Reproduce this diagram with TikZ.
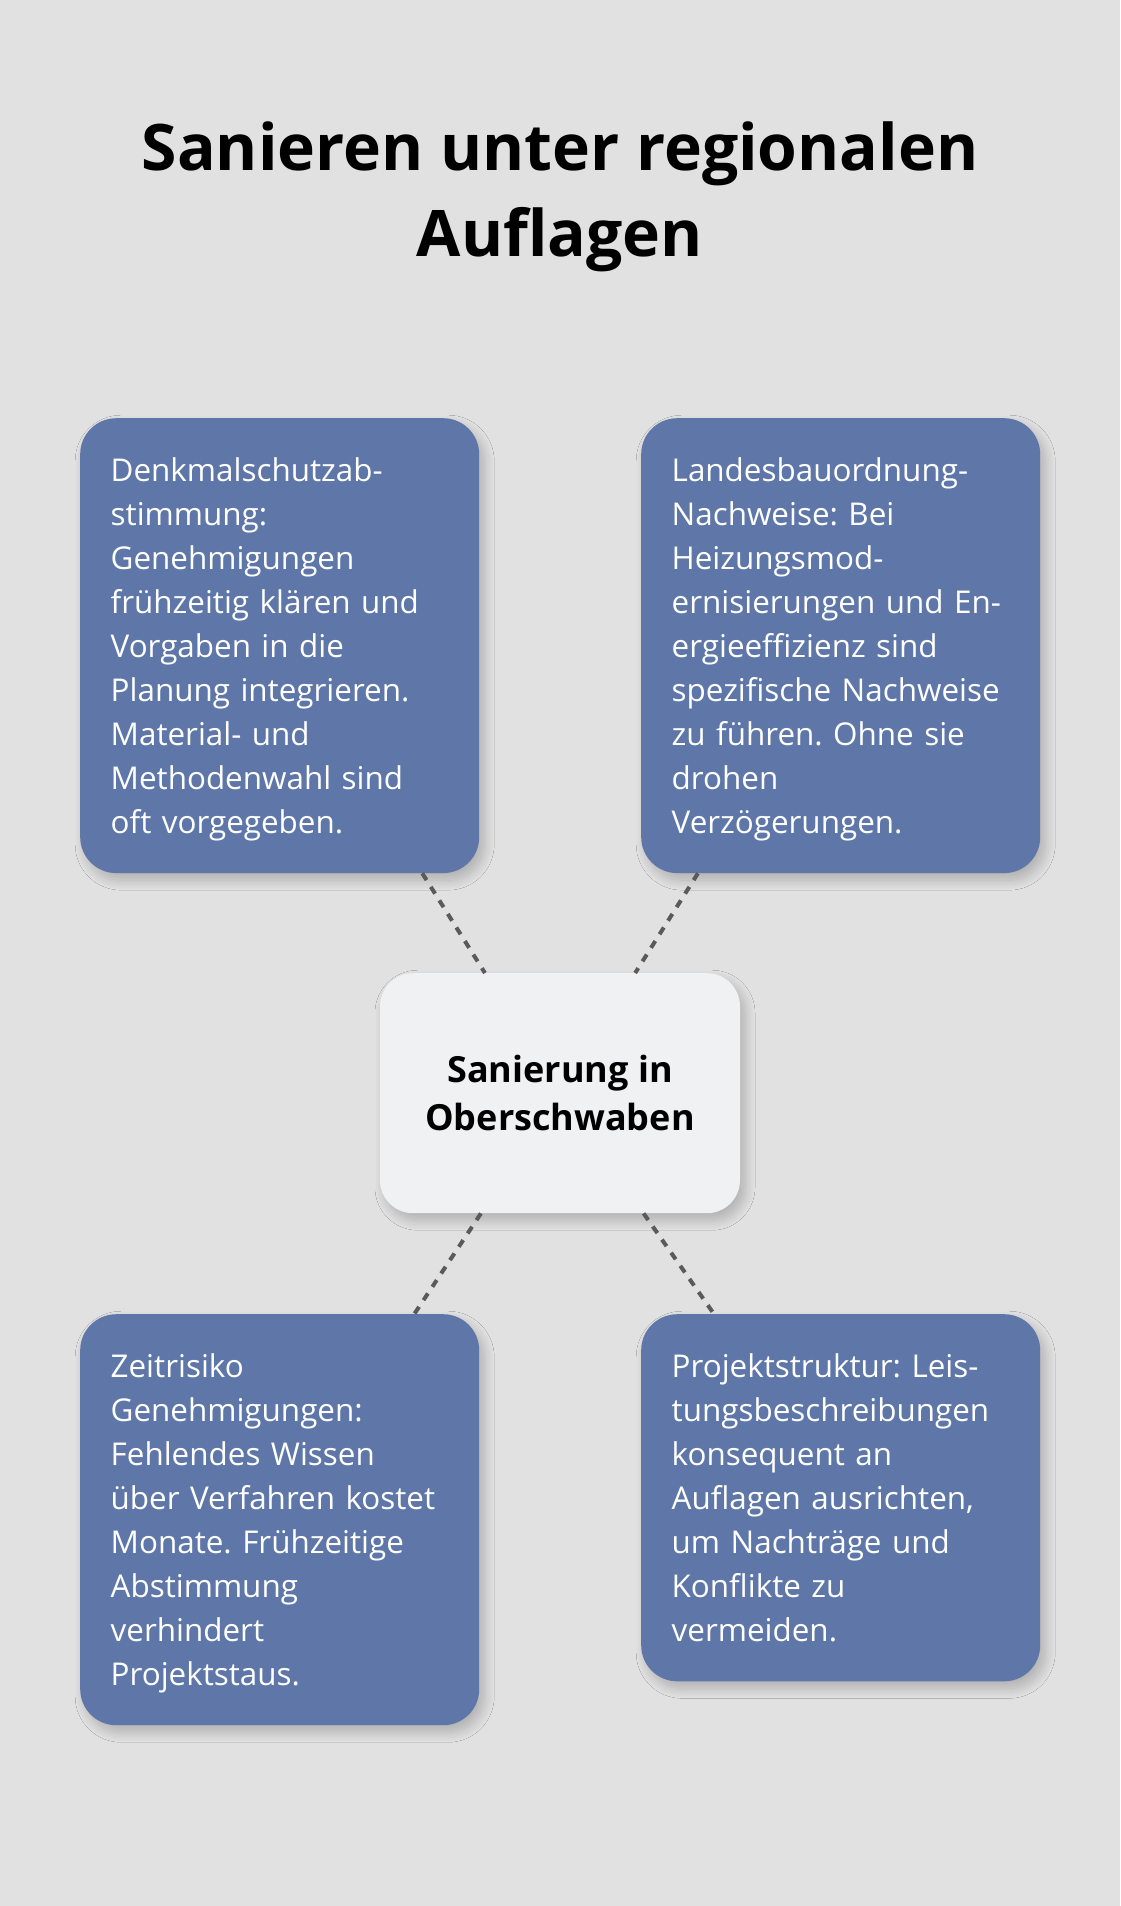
\documentclass[tikz,border=0pt]{standalone}
\usepackage{fontspec}
\setmainfont{Open Sans}
\usetikzlibrary{shadows.blur}
\definecolor{bg}{HTML}{E0E1E0}
\definecolor{boxblue}{HTML}{5E77A8}
\definecolor{centerfill}{HTML}{F0F1F3}
\definecolor{dashgrey}{HTML}{5A5A5A}
\hyphenpenalty=10000
\exhyphenpenalty=10000
\frenchspacing
\newcommand{\bodyfont}{\fontsize{31.4}{43.9}\selectfont}
\newcommand{\centerfont}{\fontsize{36}{48}\selectfont\bfseries}
\newcommand{\titlefont}{\fontsize{64.2}{86.7}\selectfont\bfseries}
\begin{document}
\begin{tikzpicture}[x=1pt,y=-1pt,
  softshadow/.style={blur shadow={shadow xshift=5pt, shadow yshift=-7pt, shadow blur radius=10pt, shadow blur steps=18, shadow opacity=22}},
  bluebox/.style={fill=boxblue, rounded corners=36pt, text=white,
    font=\bodyfont\frenchspacing,
    align=left, text width=338pt, inner xsep=30.5pt, inner ysep=0pt,
    text height=63.7pt, anchor=north west, softshadow},
  centerbox/.style={fill=centerfill, rounded corners=33pt, text=black,
    font=\centerfont, align=center,
    minimum width=360pt, inner xsep=0pt, inner ysep=0pt,
    text height=157.7pt, text depth=82.3pt, anchor=north, softshadow},
  titlenode/.style={font=\titlefont, align=center,
    inner sep=0pt, text height=0pt, anchor=north},
  link/.style={draw=dashgrey, line width=4pt, dash pattern=on 8pt off 8pt}]
\fill[bg] (0,0) rectangle (1120,1906);
\useasboundingbox (0,0) rectangle (1120,1906);

\node[titlenode] (title) at (560,256.7) {Sanieren unter regionalen\\Auflagen};

\node[bluebox, text depth=391.2pt] (tl) at (80,418) {Denkmalschutzab-\\stimmung:\\Genehmigungen\\frühzeitig klären und\\Vorgaben in die\\Planung integrieren.\\Material- und\\Methodenwahl sind\\oft vorgegeben.};
\node[bluebox, text depth=391.2pt] (tr) at (641,418) {Landesbauordnung-\\Nachweise: Bei\\Heizungsmod-\\ernisierungen und En-\\ergieeffizienz sind\\spezifische Nachweise\\zu führen. Ohne sie\\drohen\\Verzögerungen.};
\node[centerbox] (c) at (560,973) {Sanierung in\\Oberschwaben};
\node[bluebox, text depth=347.3pt] (bl) at (80,1314) {Zeitrisiko\\Genehmigungen:\\Fehlendes Wissen\\über Verfahren kostet\\Monate. Frühzeitige\\Abstimmung\\verhindert\\Projektstaus.};
\node[bluebox, text depth=303.4pt] (br) at (641,1314) {Projektstruktur: Leis-\\tungsbeschreibungen\\konsequent an\\Auflagen ausrichten,\\um Nachträge und\\Konflikte zu\\vermeiden.};

\path[link] (tl) -- (c);
\path[link] (tr) -- (c);
\path[link] (c) -- (bl);
\path[link] (c) -- (br);
\end{tikzpicture}
\end{document}
